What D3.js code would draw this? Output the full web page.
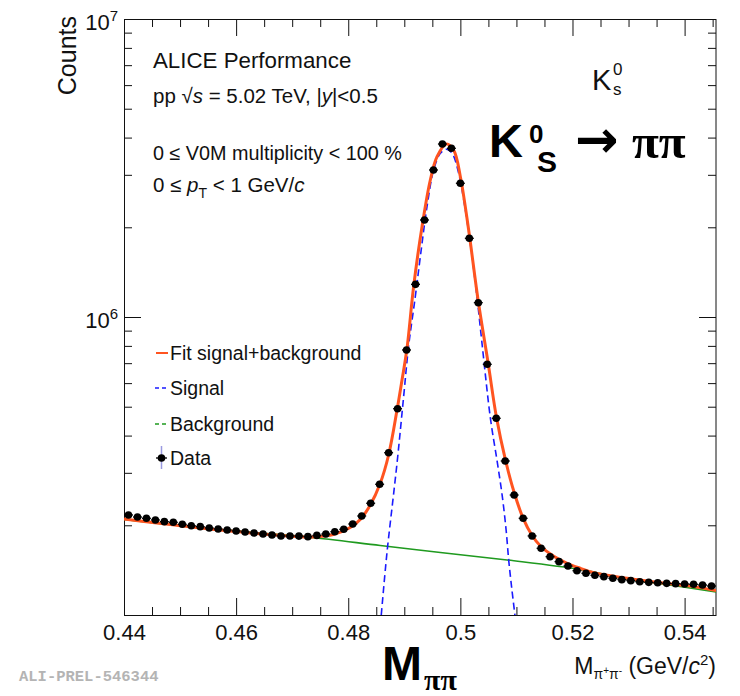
<!DOCTYPE html>
<html>
<head>
<meta charset="utf-8">
<script src="https://cdn.jsdelivr.net/npm/d3@7"></script>
<style>
  body { margin: 0; background: #fff; }
  svg text { font-family: "Liberation Sans", Arial, Helvetica, sans-serif; fill: #111; }
</style>
</head>
<body>
<svg id="chart"></svg>
<script>
// invariant mass bin centres (GeV/c^2) and counts
const massBins = [0.4408, 0.4424, 0.4440, 0.4456, 0.4472, 0.4488, 0.4504, 0.4520, 0.4536, 0.4552,
    0.4568, 0.4584, 0.4600, 0.4616, 0.4632, 0.4648, 0.4664, 0.4680, 0.4696, 0.4712,
    0.4728, 0.4744, 0.4760, 0.4776, 0.4792, 0.4808, 0.4824, 0.4840, 0.4856, 0.4872,
    0.4888, 0.4904, 0.4920, 0.4936, 0.4952, 0.4968, 0.4984, 0.5000, 0.5016, 0.5032,
    0.5048, 0.5064, 0.5080, 0.5096, 0.5112, 0.5128, 0.5144, 0.5160, 0.5176, 0.5192,
    0.5208, 0.5224, 0.5240, 0.5256, 0.5272, 0.5288, 0.5304, 0.5320, 0.5336, 0.5352,
    0.5368, 0.5384, 0.5400, 0.5416, 0.5432, 0.5448];
const counts = [216600, 213200, 211100, 208400, 205700, 204700, 201600, 199400, 197900, 195900,
    194400, 192900, 191400, 189900, 188500, 187000, 185600, 184200, 184200, 184000,
    183200, 185000, 187000, 190300, 193900, 202000, 214900, 237100, 274600, 350400,
    492300, 775100, 1287000, 2116000, 3114000, 3806000, 3682000, 2810000, 1837000, 1117000,
    693900, 457200, 328700, 252700, 211100, 184200, 167400, 156900, 151000, 146000,
    140800, 138000, 135900, 134500, 132800, 131400, 130400, 129300, 128700, 128300,
    127700, 127400, 127100, 126800, 126100, 125100];

// fit signal+background
const fitMass = [0.44, 0.45714, 0.47143, 0.47441, 0.47732, 0.48036, 0.48214, 0.48393, 0.48571, 0.4872,
    0.4887, 0.48959, 0.49048, 0.49166, 0.49316, 0.49464, 0.49584, 0.4975, 0.4988, 0.5,
    0.50148, 0.50316, 0.50495, 0.50643, 0.50804, 0.50964, 0.5112, 0.5128, 0.51429, 0.51666,
    0.51905, 0.52143, 0.5238, 0.52977, 0.53571, 0.54166, 0.5456];
const fitCounts = [2.100e5, 1.929e5, 1.831e5, 1.831e5, 1.863e5, 1.966e5, 2.092e5, 2.339e5, 2.767e5, 3.443e5,
    4.874e5, 6.146e5, 7.841e5, 1.264e6, 2.009e6, 2.883e6, 3.451e6, 3.806e6, 3.635e6, 2.957e6,
    1.958e6, 1.140e6, 7.008e5, 4.617e5, 3.313e5, 2.561e5, 2.111e5, 1.849e5, 1.704e5, 1.574e5,
    1.491e5, 1.434e5, 1.387e5, 1.328e5, 1.283e5, 1.245e5, 1.207e5];

// signal component
const signalMass = [0.48589, 0.48661, 0.48702, 0.4887, 0.48988, 0.49077, 0.49196, 0.49286, 0.49405, 0.49523,
    0.49643, 0.4975, 0.49852, 0.4997, 0.50089, 0.50209, 0.50296, 0.50386, 0.50536, 0.50655,
    0.50745, 0.50816, 0.50862, 0.50916, 0.50973];
const signalCounts = [1.0e5, 1.416e5, 1.695e5, 3.229e5, 5.402e5, 7.994e5, 1.170e6, 1.594e6, 2.345e6, 3.114e6,
    3.543e6, 3.655e6, 3.543e6, 3.035e6, 2.286e6, 1.594e6, 1.170e6, 8.161e5, 4.572e5, 3.287e5,
    2.527e5, 1.929e5, 1.530e5, 1.232e5, 1.0e5];

// background component
const bkgMass = [0.44, 0.45357, 0.46429, 0.47321, 0.48571, 0.49643, 0.50834, 0.52143, 0.52977, 0.53571, 0.5456];
const bkgCounts = [2.092e5, 1.962e5, 1.885e5, 1.823e5, 1.711e5, 1.621e5, 1.530e5, 1.421e5, 1.318e5, 1.274e5, 1.196e5];

const xMajor = [0.44, 0.46, 0.48, 0.50, 0.52, 0.54];
const xTickLabels = ['0.44', '0.46', '0.48', '0.5', '0.52', '0.54'];
const yMajor = [1e6, 1e7];
const yTickExp = ['6', '7'];
const binHalfWidth = 0.0008;

const legendItems = ['Fit signal+background', 'Signal', 'Background', 'Data'];

const width = 740;
const height = 696;
const margin = {top: 19, right: 24, bottom: 81, left: 124};

const svg = d3.select('#chart')
    .attr('width', width)
    .attr('height', height);

const xScale = d3.scaleLinear()
    .domain([0.44, 0.5456])
    .range([margin.left, width - margin.right]);

const yScale = d3.scaleLog()
    .domain([1e5, 1e7])
    .range([height - margin.bottom, margin.top]);

const xMinor = d3.range(0.445, 0.5456, 0.005).filter(v => Math.abs(Math.round(v * 50) - v * 50) > 0.01);
const yMinor = [2, 3, 4, 5, 6, 7, 8, 9].flatMap(m => [m * 1e5, m * 1e6]);

svg.append('clipPath')
    .attr('id', 'plot-clip')
    .append('rect')
    .attr('x', margin.left)
    .attr('y', margin.top)
    .attr('width', width - margin.left - margin.right)
    .attr('height', height - margin.top - margin.bottom);

// ticks, drawn inward on all four sides like ROOT
function addTicks(axis, transform) {
    const g = svg.append('g')
        .attr('transform', transform)
        .call(axis);
    g.select('.domain').remove();
    g.selectAll('line').attr('stroke', '#111');
    return g;
}

const bottomY = height - margin.bottom;
const rightX = width - margin.right;

const bottomMajor = addTicks(d3.axisBottom(xScale).tickValues(xMajor).tickSize(-17).tickSizeOuter(0)
    .tickPadding(9).tickFormat((d, i) => xTickLabels[i]), `translate(0,${bottomY})`);
bottomMajor.selectAll('text')
    .style('font-size', '22px')
    .style('font-family', '"Liberation Sans", Arial, sans-serif')
    .attr('fill', '#111');
addTicks(d3.axisBottom(xScale).tickValues(xMinor).tickSize(-8).tickSizeOuter(0).tickFormat(''),
    `translate(0,${bottomY})`);
addTicks(d3.axisTop(xScale).tickValues(xMajor).tickSize(-17).tickSizeOuter(0).tickFormat(''),
    `translate(0,${margin.top})`);
addTicks(d3.axisTop(xScale).tickValues(xMinor).tickSize(-8).tickSizeOuter(0).tickFormat(''),
    `translate(0,${margin.top})`);
addTicks(d3.axisLeft(yScale).tickValues(yMajor).tickSize(-17).tickSizeOuter(0).tickFormat(''),
    `translate(${margin.left},0)`);
addTicks(d3.axisLeft(yScale).tickValues(yMinor).tickSize(-8).tickSizeOuter(0).tickFormat(''),
    `translate(${margin.left},0)`);
addTicks(d3.axisRight(yScale).tickValues(yMajor).tickSize(-17).tickSizeOuter(0).tickFormat(''),
    `translate(${rightX},0)`);
addTicks(d3.axisRight(yScale).tickValues(yMinor).tickSize(-8).tickSizeOuter(0).tickFormat(''),
    `translate(${rightX},0)`);

svg.append('rect')
    .attr('x', margin.left + 0.5)
    .attr('y', margin.top + 0.5)
    .attr('width', rightX - margin.left - 0.5)
    .attr('height', bottomY - margin.top)
    .attr('fill', 'none')
    .attr('stroke', '#111')
    .attr('stroke-width', 1);

// y tick labels 10^n
yMajor.forEach((v, i) => {
    const t = svg.append('text')
        .attr('x', margin.left - 6)
        .attr('y', yScale(v) + 11)
        .attr('text-anchor', 'end')
        .style('font-size', '22px');
    t.append('tspan').text('10');
    t.append('tspan').attr('dy', -9).style('font-size', '15px').text(yTickExp[i]);
});

svg.append('text')
    .attr('transform', `translate(76,${margin.top - 3}) rotate(-90)`)
    .attr('text-anchor', 'end')
    .style('font-size', '25px')
    .text('Counts');

// x axis title
const xTitle = svg.append('text')
    .attr('x', rightX)
    .attr('y', 674)
    .attr('text-anchor', 'end')
    .style('font-size', '23px');
xTitle.append('tspan').text('M');
xTitle.append('tspan').attr('dy', 5).style('font-size', '14px').text('π');
xTitle.append('tspan').attr('dy', -5).style('font-size', '10px').text('+');
xTitle.append('tspan').attr('dy', 5).style('font-size', '14px').text('π');
xTitle.append('tspan').attr('dy', -5).style('font-size', '10px').text('-');
xTitle.append('tspan').attr('dy', 0).text(' (GeV/');
xTitle.append('tspan').style('font-style', 'italic').text('c');
xTitle.append('tspan').attr('dy', -9).style('font-size', '15px').text('2');
xTitle.append('tspan').attr('dy', 9).text(')');

// curves
const plot = svg.append('g').attr('clip-path', 'url(#plot-clip)');
const lineGen = d3.line()
    .x(d => xScale(d[0]))
    .y(d => yScale(d[1]))
    .curve(d3.curveCatmullRom);

plot.append('path')
    .datum(d3.zip(bkgMass, bkgCounts))
    .attr('fill', 'none')
    .attr('stroke', '#1f9a1f')
    .attr('stroke-width', 1.6)
    .attr('d', lineGen);

plot.append('path')
    .datum(d3.zip(signalMass, signalCounts))
    .attr('fill', 'none')
    .attr('stroke', '#1a1aff')
    .attr('stroke-width', 1.6)
    .attr('stroke-dasharray', '7,4')
    .attr('d', lineGen);

plot.append('path')
    .datum(d3.zip(fitMass, fitCounts))
    .attr('fill', 'none')
    .attr('stroke', '#ff5420')
    .attr('stroke-width', 3)
    .attr('d', lineGen);

// data points with bin-width bars
const points = d3.zip(massBins, counts);
plot.selectAll('.xerr')
    .data(points)
    .enter()
    .append('line')
    .attr('x1', d => xScale(d[0] - binHalfWidth))
    .attr('x2', d => xScale(d[0] + binHalfWidth))
    .attr('y1', d => yScale(d[1]))
    .attr('y2', d => yScale(d[1]))
    .attr('stroke', '#000')
    .attr('stroke-width', 1.3);
plot.selectAll('.point')
    .data(points)
    .enter()
    .append('circle')
    .attr('cx', d => xScale(d[0]))
    .attr('cy', d => yScale(d[1]))
    .attr('r', 3.8)
    .attr('fill', '#000');

// header texts
svg.append('text').attr('x', 153).attr('y', 68).style('font-size', '22.3px').text('ALICE Performance');

const energy = svg.append('text').attr('x', 153).attr('y', 103).style('font-size', '20.5px');
energy.append('tspan').text('pp √');
energy.append('tspan').style('font-style', 'italic').text('s ');
energy.append('tspan').text(' = 5.02 TeV, |');
energy.append('tspan').style('font-style', 'italic').text('y');
energy.append('tspan').text('|<0.5');

svg.append('text').attr('x', 153).attr('y', 160).style('font-size', '19.8px').text('0 ≤ V0M multiplicity < 100 %');

const ptText = svg.append('text').attr('x', 153).attr('y', 192).style('font-size', '20.5px');
ptText.append('tspan').text('0 ≤ ');
ptText.append('tspan').style('font-style', 'italic').text('p');
ptText.append('tspan').attr('dy', 6).style('font-size', '14px').text('T');
ptText.append('tspan').attr('dy', -6).text(' < 1 GeV/');
ptText.append('tspan').style('font-style', 'italic').text('c');

// small K0s label
svg.append('text').attr('x', 592).attr('y', 90).style('font-size', '29px').attr('fill', '#222').text('K');
svg.append('text').attr('x', 613).attr('y', 75).style('font-size', '17px').attr('fill', '#222').text('0');
svg.append('text').attr('x', 613).attr('y', 95).style('font-size', '17px').attr('fill', '#222').text('s');

// big annotations
const bold = '"Liberation Sans", Arial, sans-serif';
svg.append('text').attr('x', 489).attr('y', 157).style('font-size', '47px').style('font-weight', 'bold').style('fill', '#000').text('K');
svg.append('text').attr('x', 529).attr('y', 143).style('font-size', '26px').style('font-weight', 'bold').style('fill', '#000').text('0');
svg.append('text').attr('x', 537).attr('y', 172).style('font-size', '30px').style('font-weight', 'bold').style('fill', '#000').text('S');
svg.append('text').attr('x', 575).attr('y', 157).style('font-size', '52px').style('font-weight', 'bold')
    .style('font-family', '"DejaVu Sans", sans-serif').style('fill', '#000').text('→');
svg.append('text').attr('x', 632).attr('y', 158).style('font-size', '49px').style('font-weight', 'bold')
    .style('font-family', '"Liberation Serif", "Times New Roman", serif').style('fill', '#000').text('ππ');

svg.append('text').attr('x', 382).attr('y', 680).style('font-size', '48px').style('font-weight', 'bold')
    .style('font-family', bold).style('fill', '#000').text('M');
svg.append('text').attr('x', 424).attr('y', 690).style('font-size', '30px').style('font-weight', 'bold')
    .style('font-family', '"Liberation Serif", "Times New Roman", serif').style('fill', '#000').text('ππ');

svg.append('text').attr('x', 19).attr('y', 681).style('font-size', '15.5px').style('font-weight', 'bold')
    .style('font-family', '"Liberation Mono", "Courier New", monospace').style('fill', '#b4b4b4')
    .text('ALI-PREL-546344');

// legend
const legendY = [353, 388, 424, 458];
const legend = svg.append('g');
legend.selectAll('text')
    .data(legendItems)
    .enter()
    .append('text')
    .attr('x', 170)
    .attr('y', (d, i) => legendY[i] + 7)
    .style('font-size', '19.5px')
    .text(d => d);

legend.append('line').attr('x1', 156).attr('x2', 168).attr('y1', legendY[0]).attr('y2', legendY[0])
    .attr('stroke', '#ff5420').attr('stroke-width', 2);
legend.append('line').attr('x1', 155).attr('x2', 168).attr('y1', legendY[1]).attr('y2', legendY[1])
    .attr('stroke', '#1a1aff').attr('stroke-width', 1.5).attr('stroke-dasharray', '4,3');
legend.append('line').attr('x1', 155).attr('x2', 168).attr('y1', legendY[2]).attr('y2', legendY[2])
    .attr('stroke', '#1f9a1f').attr('stroke-width', 1.5).attr('stroke-dasharray', '4,3');
legend.append('line').attr('x1', 161.5).attr('x2', 161.5).attr('y1', legendY[3] - 12).attr('y2', legendY[3] + 11)
    .attr('stroke', '#9a9ae0').attr('stroke-width', 1.5);
legend.append('line').attr('x1', 156).attr('x2', 167).attr('y1', legendY[3]).attr('y2', legendY[3])
    .attr('stroke', '#000').attr('stroke-width', 1.3);
legend.append('circle').attr('cx', 161.5).attr('cy', legendY[3]).attr('r', 3.8).attr('fill', '#000');
</script>
</body>
</html>
